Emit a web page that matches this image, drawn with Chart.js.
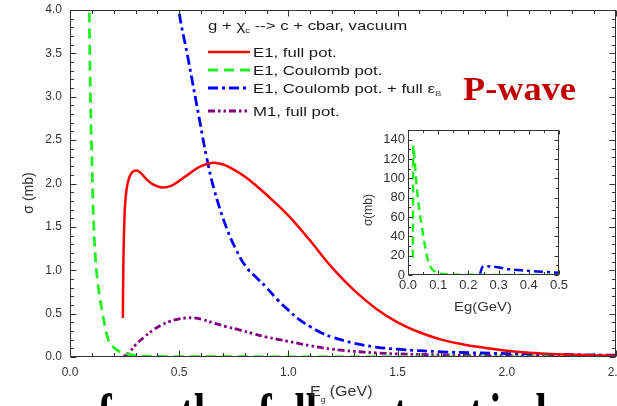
<!DOCTYPE html>
<html>
<head>
<meta charset="utf-8">
<script src="https://cdn.jsdelivr.net/npm/chart.js@4.4.1/dist/chart.umd.min.js"></script>
<style>
  body { margin: 0; background: #fff; }
  #wrap { position: relative; width: 617px; height: 406px; overflow: hidden; }
  #mainChart { position: absolute; left: 0; top: 0; }
  #insetChart { position: absolute; left: 350px; top: 120px; }
</style>
</head>
<body>
<div id="wrap">
  <canvas id="mainChart" width="617" height="406"></canvas>
  <canvas id="insetChart" width="230" height="200"></canvas>
</div>
<script>
// main panel: sigma (mb) vs E_g (GeV)
const redE = [0.242, 0.244, 0.247, 0.252, 0.26, 0.27, 0.285, 0.305, 0.325, 0.35, 0.38, 0.42, 0.46, 0.50, 0.55, 0.60, 0.655, 0.70, 0.75, 0.80, 0.85, 0.90, 1.00, 1.10, 1.20, 1.30, 1.40, 1.50, 1.60, 1.70, 1.80, 1.90, 2.00, 2.10, 2.20, 2.35, 2.50];
const redSigma = [0.45, 1.0, 1.4, 1.75, 1.95, 2.06, 2.13, 2.15, 2.12, 2.05, 1.99, 1.955, 1.97, 2.03, 2.12, 2.20, 2.24, 2.22, 2.16, 2.08, 1.98, 1.87, 1.63, 1.34, 1.03, 0.77, 0.56, 0.40, 0.285, 0.20, 0.145, 0.105, 0.072, 0.05, 0.036, 0.022, 0.013];

const greenE = [0.08, 0.088, 0.095, 0.100, 0.106, 0.115, 0.125, 0.137, 0.155, 0.175, 0.20, 0.23, 0.27, 0.32, 0.50, 1.00, 2.50];
const greenSigma = [6.0, 4.0, 2.8, 2.3, 1.7, 1.2, 0.9, 0.68, 0.42, 0.2, 0.11, 0.06, 0.03, 0.01, 0.005, 0.002, 0.0];

const blueE = [0.244, 0.30, 0.40, 0.45, 0.498, 0.54, 0.594, 0.624, 0.66, 0.715, 0.76, 0.806, 0.86, 0.90, 0.95, 1.00, 1.05, 1.10, 1.15, 1.20, 1.30, 1.40, 1.50, 1.70, 2.00, 2.50];
const blueSigma = [9.0, 8.0, 6.0, 5.0, 4.0, 3.45, 2.72, 2.32, 1.93, 1.50, 1.24, 1.04, 0.90, 0.80, 0.66, 0.54, 0.43, 0.35, 0.28, 0.23, 0.16, 0.115, 0.09, 0.06, 0.04, 0.02];

const purpleE = [0.245, 0.27, 0.30, 0.34, 0.38, 0.42, 0.457, 0.50, 0.533, 0.57, 0.609, 0.66, 0.715, 0.78, 0.837, 0.90, 1.00, 1.10, 1.20, 1.30, 1.40, 1.50, 1.70, 2.00, 2.50];
const purpleSigma = [0.0, 0.05, 0.14, 0.23, 0.31, 0.37, 0.41, 0.44, 0.45, 0.45, 0.43, 0.39, 0.35, 0.31, 0.27, 0.23, 0.18, 0.13, 0.09, 0.065, 0.048, 0.036, 0.025, 0.015, 0.01];

// inset panel: low-energy region
const insetGreenE = [0.016, 0.0177, 0.022, 0.029, 0.037, 0.046, 0.055, 0.063, 0.072, 0.08, 0.09, 0.107, 0.13, 0.2, 0.3, 0.4, 0.5];
const insetGreenSigma = [18, 134, 118, 91, 68, 50, 32, 19, 10, 6, 3.5, 1.5, 0.6, 0.2, 0.1, 0.05, 0.03];
const insetBlueE = [0.238, 0.245, 0.252, 0.283, 0.336, 0.39, 0.44, 0.50];
const insetBlueSigma = [0.5, 7.5, 9.0, 8.6, 5.9, 4.5, 3.4, 2.4];

const legendLabels = ['E1, full pot.', 'E1, Coulomb pot.', 'E1, Coulomb pot. + full \u03b5', 'M1, full pot.'];

const toPoints = (xs, ys) => xs.map((x, i) => ({ x: x, y: ys[i] }));

function drawText(ctx, text, x, y, font, color, sx, sy) {
    ctx.save();
    ctx.font = font;
    ctx.fillStyle = color;
    ctx.textBaseline = 'alphabetic';
    ctx.translate(x, y);
    ctx.scale(sx || 1, sy || 1);
    ctx.fillText(text, 0, 0);
    const w = ctx.measureText(text).width * (sx || 1);
    ctx.restore();
    return w;
}

// frame with inward major/minor ticks on all four sides
const framePlugin = {
    id: 'frame',
    afterDraw(chart, args, o) {
        const ctx = chart.ctx, a = chart.chartArea;
        const xs = chart.scales.x, ys = chart.scales.y;
        const L = Math.round(a.left) + 0.5, R = Math.round(a.right) - 0.5;
        const T = Math.round(a.top) + 0.5, B = Math.round(a.bottom) - 0.5;
        ctx.save();
        ctx.strokeStyle = '#333';
        ctx.lineWidth = 1;
        ctx.strokeRect(L, T, R - L, B - T);
        ctx.beginPath();
        const nx = Math.round((xs.max - xs.min) / o.xStep);
        for (let i = 0; i <= nx; i++) {
            const px = Math.round(xs.getPixelForValue(xs.min + i * o.xStep)) + 0.5;
            const len = i % o.xEvery === 0 ? o.major : o.minor;
            ctx.moveTo(px, B); ctx.lineTo(px, B - len);
            ctx.moveTo(px, T); ctx.lineTo(px, T + len);
        }
        const ny = Math.round((ys.max - ys.min) / o.yStep);
        for (let i = 0; i <= ny; i++) {
            const py = Math.round(ys.getPixelForValue(ys.min + i * o.yStep)) + 0.5;
            const len = i % o.yEvery === 0 ? o.major : o.minor;
            ctx.moveTo(L, py); ctx.lineTo(L + len, py);
            ctx.moveTo(R, py); ctx.lineTo(R - len, py);
        }
        ctx.stroke();
        ctx.restore();
    }
};

// legend, titles and slide text of the main panel
const mainTextPlugin = {
    id: 'mainText',
    afterDraw(chart) {
        const ctx = chart.ctx;
        const f = '13.5px "Liberation Sans"';
        const fs = '8px "Liberation Sans"';
        const col = '#1a1a1a';
        // legend title with subscript
        let x = 208;
        x += drawText(ctx, 'g + \u03c7', x, 30, f, col, 1.24);
        x += drawText(ctx, 'c', x, 33, fs, col, 1.2);
        drawText(ctx, ' --> c + cbar, vacuum', x, 30, f, col, 1.24);
        // legend entries
        const rows = [52, 70, 88, 111];
        chart.data.datasets.forEach((ds, i) => {
            ctx.save();
            ctx.strokeStyle = ds.borderColor;
            ctx.lineWidth = ds.borderWidth;
            ctx.setLineDash(ds.borderDash || []);
            ctx.beginPath();
            ctx.moveTo(208, rows[i]);
            ctx.lineTo(250, rows[i]);
            ctx.stroke();
            ctx.restore();
            const w = drawText(ctx, legendLabels[i], 253, rows[i] + 5, f, col, 1.24);
            if (i === 2) drawText(ctx, 'B', 253 + w, rows[i] + 8, fs, '#555', 1.2);
        });
        // P-wave label
        drawText(ctx, 'P-wave', 463, 100, 'bold 33px "Liberation Serif"', '#c00000', 1.1);
        // axis titles
        ctx.save();
        ctx.translate(33, 193);
        ctx.rotate(-Math.PI / 2);
        ctx.font = '14px "Liberation Sans"';
        ctx.fillStyle = '#333';
        ctx.textAlign = 'center';
        ctx.fillText('\u03c3 (mb)', 0, 0);
        ctx.restore();
        // slide caption, cut by the picture edge
        const bf = 'bold 41px "Liberation Serif"';
        [['from', 98], ['the', 180], ['full', 258]].forEach(p => drawText(ctx, p[0], p[1], 433, bf, '#000', 1, 1.4));
        ctx.save();
        ctx.letterSpacing = '7px';
        drawText(ctx, 'potential', 336, 433, bf, '#000', 1, 1.4);
        ctx.restore();
        x = 310;
        x += drawText(ctx, 'E', x, 396, '14px "Liberation Sans"', '#333', 1.15);
        drawText(ctx, 'g', x, 402, '8px "Liberation Sans"', '#333', 1.1);
        drawText(ctx, '(GeV)', x + 9, 396, '14px "Liberation Sans"', '#333', 1.15);
    }
};

const insetTextPlugin = {
    id: 'insetText',
    afterDraw(chart) {
        const ctx = chart.ctx;
        ctx.save();
        ctx.translate(22, 90);
        ctx.rotate(-Math.PI / 2);
        ctx.font = '12px "Liberation Sans"';
        ctx.fillStyle = '#333';
        ctx.textAlign = 'center';
        ctx.fillText('\u03c3(mb)', 0, 0);
        ctx.restore();
        ctx.save();
        ctx.font = '13.5px "Liberation Sans"';
        const w = ctx.measureText('Eg(GeV)').width * 1.1;
        ctx.restore();
        drawText(ctx, 'Eg(GeV)', 133 - w / 2, 191, '13.5px "Liberation Sans"', '#333', 1.1);
    }
};

const tickFont = { family: 'Liberation Sans', size: 12 };
const insetTickFont = { family: 'Liberation Sans', size: 13 };

new Chart(document.getElementById('mainChart'), {
    type: 'line',
    data: {
        datasets: [
            { label: legendLabels[0], data: toPoints(redE, redSigma), borderColor: '#ff0000', borderWidth: 2.5, tension: 0.4 },
            { label: legendLabels[1], data: toPoints(greenE, greenSigma), borderColor: '#22ee22', borderWidth: 2.8, borderDash: [10, 6], cubicInterpolationMode: 'monotone' },
            { label: legendLabels[2], data: toPoints(blueE, blueSigma), borderColor: '#0000ff', borderWidth: 2.8, borderDash: [10, 4, 3, 4], tension: 0.4 },
            { label: legendLabels[3], data: toPoints(purpleE, purpleSigma), borderColor: '#800080', borderWidth: 2.8, borderDash: [7, 3, 2.5, 3, 2.5, 3], tension: 0.4 }
        ]
    },
    options: {
        responsive: false,
        animation: false,
        layout: { padding: { top: 10, right: 1, left: 0, bottom: 0 } },
        elements: { point: { radius: 0 } },
        plugins: {
            legend: { display: false },
            tooltip: { enabled: false },
            frame: { xStep: 0.1, xEvery: 5, yStep: 0.1, yEvery: 5, major: 6, minor: 3.5 }
        },
        scales: {
            x: {
                type: 'linear', min: 0, max: 2.5,
                grid: { display: false, drawTicks: false }, border: { display: false },
                ticks: { stepSize: 0.5, autoSkip: false, maxRotation: 0, padding: 8, color: '#333', font: tickFont, callback: v => v.toFixed(1) },
                afterFit: s => { s.height = 49; s.paddingLeft = 0; s.paddingRight = 0; }
            },
            y: {
                min: 0, max: 4,
                grid: { display: false, drawTicks: false }, border: { display: false },
                ticks: { stepSize: 0.5, autoSkip: false, padding: 8, color: '#333', font: tickFont, callback: v => v.toFixed(1) },
                afterFit: s => { s.width = 70; s.paddingTop = 0; s.paddingBottom = 0; }
            }
        }
    },
    plugins: [framePlugin, mainTextPlugin]
});

new Chart(document.getElementById('insetChart'), {
    type: 'line',
    data: {
        datasets: [
            { data: toPoints(insetGreenE, insetGreenSigma), borderColor: '#22ee22', borderWidth: 2.5, borderDash: [8, 5], cubicInterpolationMode: 'monotone' },
            { data: toPoints(insetBlueE, insetBlueSigma), borderColor: '#0000ff', borderWidth: 2.5, borderDash: [9, 4, 3, 4], cubicInterpolationMode: 'monotone' }
        ]
    },
    options: {
        responsive: false,
        animation: false,
        layout: { padding: { top: 10, right: 21, left: 0, bottom: 0 } },
        elements: { point: { radius: 0 } },
        plugins: {
            legend: { display: false },
            tooltip: { enabled: false },
            frame: { xStep: 0.05, xEvery: 2, yStep: 10, yEvery: 2, major: 4, minor: 2.5 }
        },
        scales: {
            x: {
                type: 'linear', min: 0, max: 0.5,
                grid: { display: false, drawTicks: false }, border: { display: false },
                ticks: { stepSize: 0.1, autoSkip: false, maxRotation: 0, padding: 3, color: '#333', font: insetTickFont, callback: v => v.toFixed(1) },
                afterFit: s => { s.height = 45; s.paddingLeft = 0; s.paddingRight = 0; }
            },
            y: {
                min: 0, max: 150,
                grid: { display: false, drawTicks: false }, border: { display: false },
                ticks: { stepSize: 10, autoSkip: false, padding: 3, color: '#333', font: insetTickFont, callback: v => (Math.round(v) % 20 === 0 ? Math.round(v) : '') },
                afterFit: s => { s.width = 58; s.paddingTop = 0; s.paddingBottom = 0; }
            }
        }
    },
    plugins: [framePlugin, insetTextPlugin]
});
</script>
</body>
</html>
